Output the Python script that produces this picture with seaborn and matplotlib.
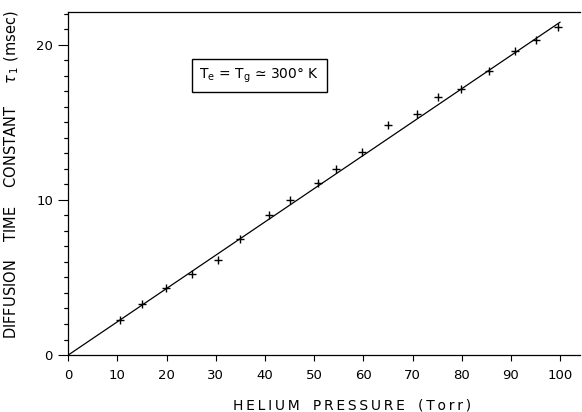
import matplotlib
matplotlib.use("Agg")
import matplotlib.pyplot as plt
import matplotlib.transforms as mtransforms
import seaborn as sns
import pandas as pd
from matplotlib.ticker import MultipleLocator

pressure = [10.5, 15.0, 19.8, 25.1, 30.4, 34.9, 40.9, 45.1, 50.8, 54.5,
            59.8, 65.1, 70.9, 75.1, 79.9, 85.6, 90.9, 95.1, 99.5]
tau = [2.25, 3.3, 4.35, 5.25, 6.1, 7.5, 9.0, 10.0, 11.1, 12.0,
       13.1, 14.8, 15.55, 16.65, 17.15, 18.3, 19.6, 20.3, 21.15]
fit_x = [0, 100]
fit_y = [0, 21.45]

df = pd.DataFrame({"p": pressure, "t": tau})
fit = pd.DataFrame({"p": fit_x, "t": fit_y})

sns.set_style("ticks")
plt.rcParams["font.family"] = ["DejaVu Sans"]
plt.rcParams.update({
    "text.color": "black", "axes.labelcolor": "black",
    "xtick.color": "black", "ytick.color": "black",
})

fig = plt.figure(figsize=(5.82, 4.12), dpi=100)
ax = fig.add_axes([0.1173, 0.1383, 0.879, 0.8325])

sns.lineplot(data=fit, x="p", y="t", ax=ax, color="black", linewidth=0.9)
sns.scatterplot(data=df, x="p", y="t", ax=ax, marker="+", color="black",
                s=30, linewidth=1.0)

ax.spines["right"].set_visible(False)
for s in ("left", "bottom", "top"):
    ax.spines[s].set_linewidth(0.9)
    ax.spines[s].set_color("black")

th = "\u2009"
xl = "   ".join(th.join(w) for w in ["HELIUM", "PRESSURE", "(Torr)"])
ax.set_xlabel(xl, fontsize=10)
ax.xaxis.set_label_coords(0.5545, -0.128)
ax.set_ylabel(r"DIFFUSION    TIME    CONSTANT     $\tau_{\,1}$ (msec)",
              fontsize=10.5)
ax.yaxis.set_label_coords(-0.092, 0.525)

ax.text(38.9, 18.0, r"T$_\mathregular{e}$ = T$_\mathregular{g}$ ≃ 300° K",
        ha="center", va="center", fontsize=10,
        bbox=dict(boxstyle="square,pad=0.55", facecolor="white",
                  edgecolor="black", linewidth=1.0))

ax.set_xlim(0, 104)
ax.set_ylim(0, 22.1)
ax.xaxis.set_major_locator(MultipleLocator(10))
ax.yaxis.set_major_locator(MultipleLocator(10))
ax.yaxis.set_minor_locator(MultipleLocator(1))
ax.tick_params(axis="x", which="major", direction="out", length=4, width=0.8,
               pad=6, labelsize=9.5)
ax.tick_params(axis="y", which="major", direction="out", length=7, width=0.8,
               pad=4, labelsize=9.5)
ax.tick_params(axis="y", which="minor", direction="out", length=3.2, width=0.8,
               left=True)

# reinforce the minor ticks at the locator's positions
trans = mtransforms.blended_transform_factory(ax.transAxes, ax.transData)
lo, hi = ax.get_ylim()
for v in ax.yaxis.get_minorticklocs():
    if lo < v < hi:
        ax.plot([-0.0085, 0], [v, v], transform=trans, color="black",
                linewidth=0.8, clip_on=False, solid_capstyle="butt")

fig.savefig("out.png", dpi=100)
